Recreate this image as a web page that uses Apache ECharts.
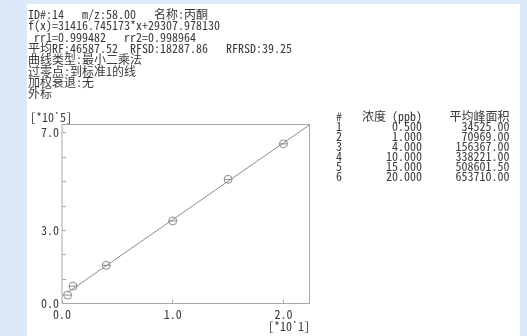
<!DOCTYPE html>
<html><head><meta charset="utf-8">
<script src="https://cdn.jsdelivr.net/npm/echarts@6/dist/echarts.min.js"></script>
<style>
html,body{margin:0;padding:0;background:#dce9f8;overflow:hidden}
#panel{position:absolute;left:27px;top:4px;width:493px;height:340px;background:#fff}
#c{position:absolute;left:0;top:0;width:527px;height:336px}
</style>
</head><body><div id="panel"></div><div id="c"></div>
<script>
const infoLines = [
  'ID#:14   m/z:58.00   名称:丙酮',
  'f(x)=31416.745173*x+29307.978130',
  ' rr1=0.999482   rr2=0.998964',
  '平均RF:46587.52  RFSD:18287.86   RFRSD:39.25',
  '曲线类型:最小二乘法',
  '过零点:到标准1的线',
  '加权衰退:无',
  '外标'
];
const tableHeader = ['#', '浓度 (ppb)', '平均峰面积'];
const levels = ['1', '2', '3', '4', '5', '6'];
const concentrations = [0.5, 1, 4, 10, 15, 20];
const areas = [34525.00, 70969.00, 156367.00, 338221.00, 508601.50, 653710.00];
const fitLineX = [0.5, 22.35];
const fitLineY = [45000, 731500];
const yTickLabels = {0: '0.0', 300000: '3.0', 700000: '7.0'};
const xTickLabels = {0: '0.0', 10: '1.0', 20: '2.0'};
const yUnit = '[*10`5]';
const xUnit = '[*10`1]';

const FONT_FAMILY = "'Noto Sans Mono CJK SC', 'Liberation Mono', monospace";
const FONT = '12px ' + FONT_FAMILY;
const TXT = '#3a3a3a';

const graphics = [];
infoLines.forEach((t, i) => {
  graphics.push({type: 'text', style: {text: t, x: 28, y: 14.5 + i * 11.3, font: FONT, fill: TXT, verticalAlign: 'middle', textVerticalAlign: 'middle'}});
});
graphics.push({type: 'text', style: {text: yUnit, x: 30, y: 117, font: FONT, fill: TXT, verticalAlign: 'middle', textVerticalAlign: 'middle'}});
graphics.push({type: 'text', style: {text: xUnit, x: 310, y: 326, font: FONT, fill: TXT, align: 'right', textAlign: 'right', verticalAlign: 'middle', textVerticalAlign: 'middle'}});
const colX = [336, 422, 509.5];
const colAlign = ['left', 'right', 'right'];
tableHeader.forEach((t, j) => {
  graphics.push({type: 'text', style: {text: t, x: colX[j], y: 116, font: FONT, fill: TXT, align: colAlign[j], textAlign: colAlign[j], verticalAlign: 'middle', textVerticalAlign: 'middle'}});
});
levels.forEach((lv, i) => {
  const row = [lv, concentrations[i].toFixed(3), areas[i].toFixed(2)];
  row.forEach((t, j) => {
    graphics.push({type: 'text', style: {text: t, x: colX[j], y: 126 + i * 10.1, font: FONT, fill: TXT, align: colAlign[j], textAlign: colAlign[j], verticalAlign: 'middle', textVerticalAlign: 'middle'}});
  });
});

const chart = echarts.init(document.getElementById('c'), null, {renderer: 'canvas'});
chart.setOption({
  backgroundColor: 'transparent',
  animation: false,
  grid: {left: 62, right: 217.5, top: 124.5, bottom: 32.5, show: true, borderColor: '#a8a8a8', borderWidth: 1},
  xAxis: {
    type: 'value', min: 0, max: 22.35, interval: 10,
    axisLine: {show: false}, splitLine: {show: false},
    axisTick: {show: true, inside: true, length: 4, lineStyle: {color: '#a8a8a8'}},
    axisLabel: {margin: 5, color: TXT, fontSize: 12, fontFamily: FONT_FAMILY, showMaxLabel: true,
      formatter: v => xTickLabels[v] || ''}
  },
  yAxis: {
    type: 'value', min: 0, max: 733000, interval: 100000,
    axisLine: {show: false}, splitLine: {show: false},
    axisTick: {show: true, inside: true, length: 4, lineStyle: {color: '#a8a8a8'}},
    axisLabel: {margin: 3, color: TXT, fontSize: 12, fontFamily: FONT_FAMILY,
      formatter: v => yTickLabels[v] || ''}
  },
  series: [
    {
      type: 'line', silent: true, symbol: 'none',
      data: fitLineX.map((x, i) => [x, fitLineY[i]]),
      lineStyle: {color: '#8c8c8c', width: 1}
    },
    {
      type: 'scatter', silent: true,
      symbol: 'path://M10,0A10,10,0,1,1,10,20A10,10,0,1,1,10,0ZM0,10L20,10',
      symbolSize: 8,
      data: concentrations.map((x, i) => [x, areas[i]]),
      itemStyle: {color: 'rgba(0,0,0,0)', borderColor: '#707070', borderWidth: 1}
    }
  ],
  graphic: graphics
});
</script>
</body></html>
